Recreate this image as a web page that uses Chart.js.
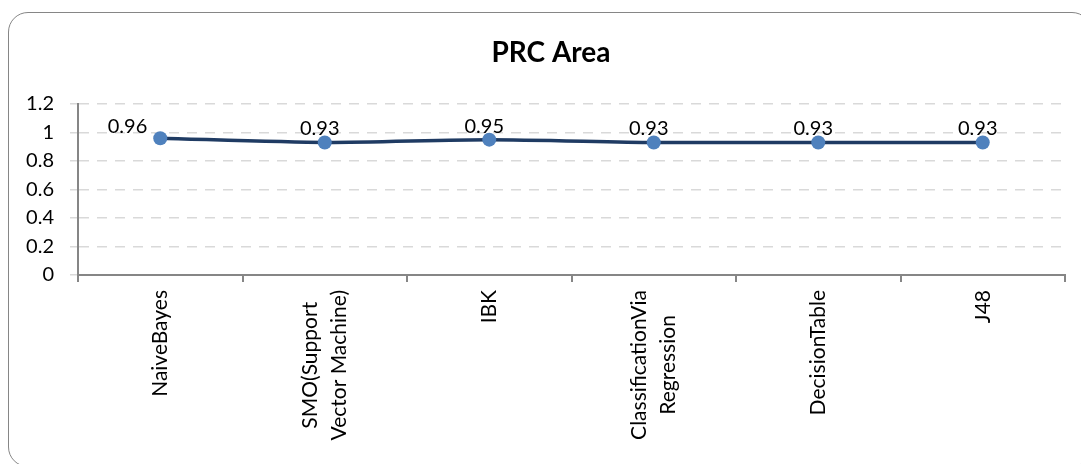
<!DOCTYPE html>
<html>
<head>
<meta charset="utf-8">
<script src="https://cdn.jsdelivr.net/npm/chart.js@4.4.1/dist/chart.umd.min.js"></script>
<style>
  html, body { margin: 0; padding: 0; background: #fff; overflow: hidden; }
  #wrap { position: relative; width: 1081px; height: 464px; }
  #frame {
    position: absolute; left: 8px; top: 12px; width: 1084px; height: 455px;
    border: 1.5px solid #868686; border-radius: 20px; box-sizing: border-box;
  }
  #prcChart { position: absolute; left: 0; top: 0; }
</style>
</head>
<body>
<div id="wrap">
  <div id="frame"></div>
  <canvas id="prcChart" width="1081" height="464"></canvas>
</div>
<script>
// PRC Area per classifier

const classifiers = [
    'NaiveBayes',
    ['SMO(Support', 'Vector Machine)'],
    'IBK',
    ['ClassificationVia', 'Regression'],
    'DecisionTable',
    'J48'
];
const prcArea = [0.96, 0.93, 0.95, 0.93, 0.93, 0.93];
const yTicks = [0, 0.2, 0.4, 0.6, 0.8, 1, 1.2];

const FONT = 'Lato, "Liberation Sans", sans-serif';

// title drawn at a fixed spot, like the original
const titlePlugin = {
    id: 'prcTitle',
    afterDraw(chart) {
        const ctx = chart.ctx;
        ctx.save();
        ctx.font = 'bold 28px ' + FONT;
        ctx.fillStyle = '#000';
        ctx.textAlign = 'center';
        ctx.textBaseline = 'middle';
        ctx.fillText('PRC Area', 551, 53);
        ctx.restore();
    }
};

// rotated category labels, each line centred like Excel does it
const xLabels = {
    id: 'xLabels',
    afterDraw(chart) {
        const ctx = chart.ctx;
        const xs = chart.scales.x;
        const top = xs.top + 15;
        const lineGap = 29;
        ctx.save();
        ctx.font = '21px ' + FONT;
        ctx.fillStyle = '#000';
        ctx.textAlign = 'center';
        ctx.textBaseline = 'middle';
        classifiers.forEach((lab, i) => {
            const lines = Array.isArray(lab) ? lab : [lab];
            const maxW = Math.max(...lines.map(l => ctx.measureText(l).width));
            const cx = xs.getPixelForTick(i);
            const cy = top + maxW / 2;
            lines.forEach((l, j) => {
                const off = (j - (lines.length - 1) / 2) * lineGap;
                ctx.save();
                ctx.translate(cx + off, cy);
                ctx.rotate(-Math.PI / 2);
                ctx.fillText(l, 0, 0);
                ctx.restore();
            });
        });
        ctx.restore();
    }
};

// value labels above the points (first one sits to the left)
const valueLabels = {
    id: 'valueLabels',
    afterDatasetsDraw(chart) {
        const ctx = chart.ctx;
        const meta = chart.getDatasetMeta(0);
        ctx.save();
        ctx.font = '20px ' + FONT;
        ctx.fillStyle = '#000';
        ctx.textBaseline = 'alphabetic';
        meta.data.forEach((pt, i) => {
            const txt = prcArea[i].toFixed(2);
            if (i === 0) {
                ctx.textAlign = 'right';
                ctx.fillText(txt, pt.x - 13, pt.y - 5);
            } else {
                ctx.textAlign = 'center';
                ctx.fillText(txt, pt.x - 5, pt.y - 7);
            }
        });
        ctx.restore();
    }
};

const config = {
    type: 'line',
    data: {
        labels: classifiers,
        datasets: [{
            label: 'PRC Area',
            data: prcArea,
            borderColor: '#1F3B63',
            borderWidth: 3.5,
            tension: 0.25,
            pointRadius: 7,
            pointHoverRadius: 7,
            pointBackgroundColor: '#4F81BD',
            pointBorderColor: '#4F81BD',
            pointBorderWidth: 0
        }]
    },
    options: {
        responsive: false,
        animation: false,
        layout: {
            padding: { top: 104, right: 16, bottom: 0, left: 0 }
        },
        scales: {
            x: {
                offset: true,
                afterFit(scale) { scale.height = 189; },
                grid: {
                    offset: true,
                    drawOnChartArea: false,
                    drawTicks: true,
                    tickLength: 7,
                    color: '#868686',
                    lineWidth: 2
                },
                border: { display: true, color: '#868686', width: 2 },
                ticks: {
                    display: false,
                    autoSkip: false
                }
            },
            y: {
                min: 0,
                max: 1.2,
                afterFit(scale) { scale.width = 78; },
                afterBuildTicks(scale) {
                    scale.ticks = yTicks.map(v => ({ value: v }));
                },
                grid: {
                    color: '#D9D9D9',
                    lineWidth: 1.5,
                    tickLength: 8
                },
                border: { display: true, color: '#868686', width: 2, dash: [10, 8] },
                ticks: {
                    padding: 16,
                    color: '#000',
                    font: { family: FONT, size: 20 },
                    callback: v => String(Math.round(v * 10) / 10)
                }
            }
        },
        plugins: {
            legend: { display: false },
            title: { display: false },
            tooltip: { enabled: false }
        }
    },
    plugins: [titlePlugin, xLabels, valueLabels]
};

const prcChart = new Chart(document.getElementById('prcChart'), config);
</script>
</body>
</html>
